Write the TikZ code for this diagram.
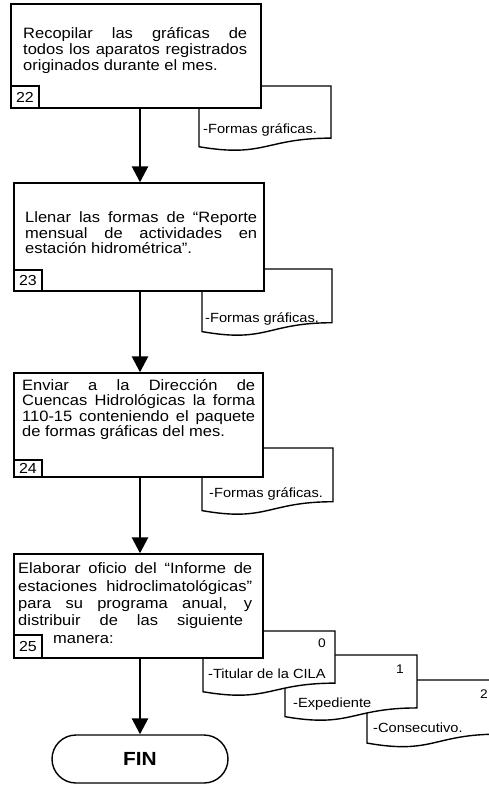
\documentclass[tikz,border=0pt]{standalone}
\usepackage{fontspec}
\setmainfont{Liberation Sans}[FakeStretch=1.1]
\usetikzlibrary{arrows.meta}
\newcommand{\jline}[2]{\makebox[#1][s]{#2}}
\newcommand{\docshp}[4]{%
  \draw[docshape] ({#1},{#3}) -- ({#2},{#3}) -- ({#2},{#3+0.802*#4})
    .. controls ({(#1+#2)/2},{#3+0.802*#4}) and ({(#1+#2)/2},{#3+1.108*#4}) .. ({#1},{#3+0.934*#4}) -- cycle;}
\begin{document}
\begin{tikzpicture}[x=1pt,y=-1pt,
  procbox/.style={draw, line width=1.4pt, fill=white, inner sep=0pt, rectangle},
  numbox/.style={draw, line width=1.4pt, fill=white, inner sep=0pt, rectangle, font=\fontsize{14.5}{16}\selectfont},
  ln/.style={anchor=base west, inner sep=0pt, font=\fontsize{15}{17}\selectfont},
  sm/.style={anchor=base west, inner sep=0pt, font=\fontsize{13.3}{15}\selectfont},
  dig/.style={anchor=base, inner sep=0pt, font=\fontsize{12.5}{14}\selectfont},
  docshape/.style={draw, line width=1.4pt, fill=white},
  flow/.style={line width=2.7pt, -{Triangle[width=16pt,length=16pt]}},
  term/.style={draw, line width=1.4pt, fill=white, rounded corners=24pt, minimum width=176pt, minimum height=48pt, font=\fontsize{19}{22}\selectfont\bfseries},
]
\useasboundingbox (0,0) rectangle (489,785);

% ---- step 22 ----
\docshp{199}{331}{86}{65}
\node[sm] (d1) at (203,133) {-Formas gráficas.};
\node[procbox, minimum width=250pt, minimum height=104pt] (b1) at (136,56) {};
\node[ln] (t1a) at (23,38) {\jline{224pt}{Recopilar las gráficas de}};
\node[ln] (t1b) at (23,54) {\jline{224pt}{todos los aparatos registrados}};
\node[ln] (t1c) at (23,70) {originados durante el mes.};
\node[numbox, minimum width=28pt, minimum height=22pt] (n1) at (25,97) {22};

% ---- step 23 ----
\docshp{202}{332}{269}{67}
\node[sm] (d2) at (205,322) {-Formas gráficas.};
\node[procbox, minimum width=250pt, minimum height=108pt] (b2) at (139,237) {};
\node[ln] (t2a) at (25,222) {\jline{232pt}{Llenar las formas de “Reporte}};
\node[ln] (t2b) at (25,238) {\jline{232pt}{mensual de actividades en}};
\node[ln] (t2c) at (25,253) {estación hidrométrica”.};
\node[numbox, minimum width=28pt, minimum height=21pt] (n2) at (28,280.5) {23};

% ---- step 24 ----
\docshp{202}{333}{448}{67}
\node[sm] (d3) at (209,497) {-Formas gráficas.};
\node[procbox, minimum width=249pt, minimum height=104pt] (b3) at (138.5,425) {};
\node[ln] (t3a) at (22,390) {\jline{233pt}{Enviar a la Dirección de}};
\node[ln] (t3b) at (22,405.5) {\jline{233pt}{Cuencas Hidrológicas la forma}};
\node[ln] (t3c) at (22,421) {\jline{233pt}{110-15 conteniendo el paquete}};
\node[ln] (t3d) at (22,436) {de formas gráficas del mes.};
\node[numbox, minimum width=28pt, minimum height=17pt] (n3) at (28,468.5) {24};

% ---- step 25 ----
\docshp{367}{499}{680}{67.5}
\node[sm] (d6) at (373,732) {-Consecutivo.};
\node[dig] (g2) at (484,698) {2};
\docshp{285}{417}{655}{66}
\node[sm] (d5) at (293,707) {-Expediente};
\node[dig] (g1) at (400,673) {1};
\docshp{203}{335}{631}{65}
\node[sm] (d4) at (208,678) {-Titular de la CILA};
\node[dig] (g0) at (322,647) {0};
\node[procbox, minimum width=249pt, minimum height=104pt] (b4) at (138.5,606) {};
\node[ln] (t4a) at (18,573) {\jline{234pt}{Elaborar oficio del “Informe de}};
\node[ln] (t4b) at (18,591) {\jline{234pt}{estaciones hidroclimatológicas”}};
\node[ln] (t4c) at (18,608) {\jline{234pt}{para su programa anual, y}};
\node[ln] (t4d) at (18,625) {\jline{225pt}{distribuir de las siguiente}};
\node[ln] (t4e) at (53,643) {manera:};
\node[numbox, minimum width=28pt, minimum height=23pt] (n4) at (28,646.5) {25};

% ---- end ----
\node[term] (fin) at (140,759) {FIN};

\draw[flow] (b1.south -| fin.center) -- (b2.north -| fin.center);
\draw[flow] (b2.south -| fin.center) -- (b3.north -| fin.center);
\draw[flow] (b3.south -| fin.center) -- (b4.north -| fin.center);
\draw[flow] (b4.south -| fin.center) -- (fin.north);
\end{tikzpicture}
\end{document}
